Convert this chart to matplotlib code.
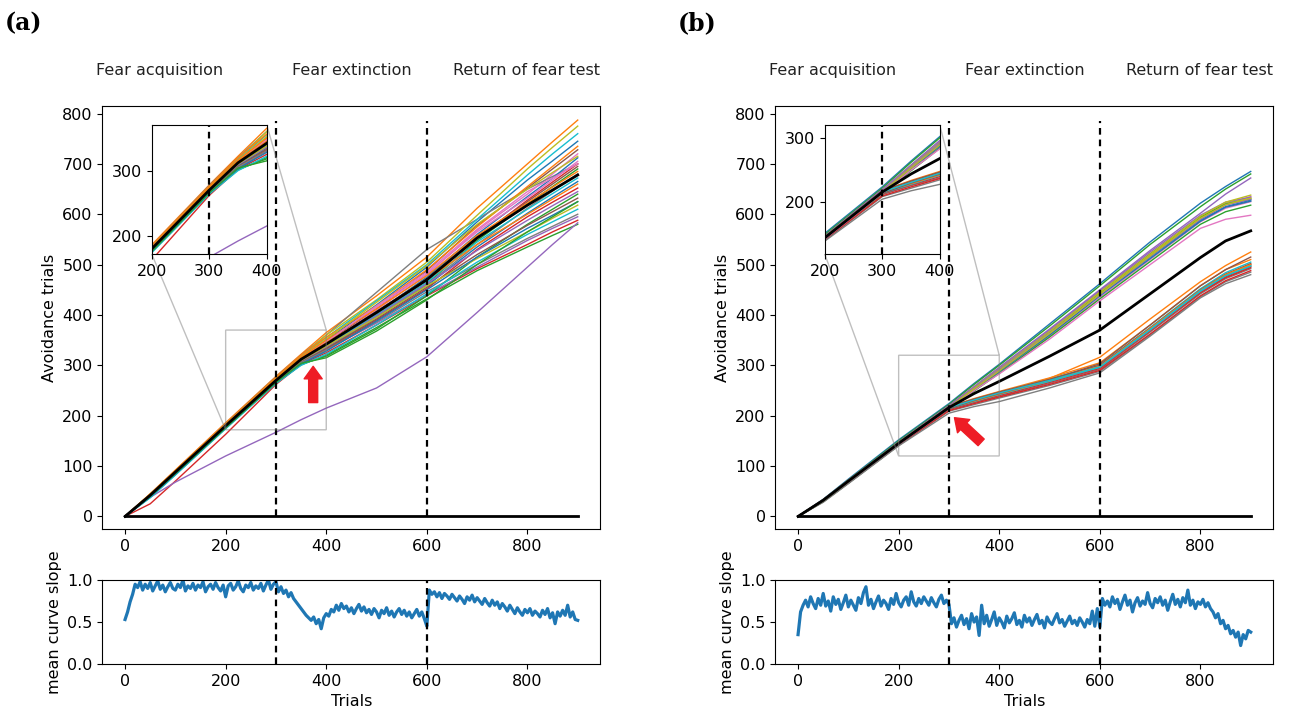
import numpy as np
import matplotlib.pyplot as plt

trials = [0, 50, 100, 200, 300, 350, 400, 500, 600, 700, 800, 850, 900]

# (a) cumulative avoidance trials per agent
agents_a = [
    [0, 42, 88, 181, 272, 314, 350, 420, 495, 585, 668, 706, 745],
    [0, 45, 92, 186, 278, 322, 365, 438, 515, 612, 700, 744, 787],
    [0, 39, 84, 176, 265, 301, 320, 375, 432, 488, 535, 558, 580],
    [0, 25, 70, 163, 262, 302, 325, 380, 438, 492, 540, 565, 588],
    [0, 38, 68, 120, 167, 192, 215, 255, 317, 405, 495, 540, 583],
    [0, 41, 87, 179, 270, 313, 345, 412, 488, 578, 652, 690, 728],
    [0, 42, 88, 180, 271, 311, 342, 410, 480, 568, 640, 680, 720],
    [0, 43, 90, 184, 277, 320, 360, 445, 530, 590, 650, 675, 700],
    [0, 44, 90, 183, 275, 318, 360, 430, 505, 598, 690, 733, 775],
    [0, 43, 89, 182, 273, 317, 355, 428, 500, 590, 678, 720, 760],
    [0, 40, 86, 178, 268, 309, 338, 405, 475, 560, 635, 672, 712],
    [0, 44, 91, 184, 276, 320, 356, 418, 490, 575, 655, 695, 735],
    [0, 40, 85, 177, 267, 307, 335, 398, 462, 548, 620, 655, 690],
    [0, 41, 87, 179, 269, 310, 340, 402, 468, 552, 628, 664, 700],
    [0, 41, 86, 178, 268, 306, 331, 384, 440, 495, 548, 572, 595],
    [0, 42, 88, 181, 271, 312, 343, 407, 472, 555, 625, 660, 695],
    [0, 43, 89, 182, 272, 315, 348, 415, 482, 565, 632, 668, 705],
    [0, 39, 84, 176, 266, 305, 332, 395, 460, 540, 612, 646, 680],
    [0, 43, 89, 182, 273, 316, 352, 425, 498, 580, 650, 683, 715],
    [0, 42, 88, 180, 270, 311, 340, 400, 465, 545, 610, 641, 672],
    [0, 41, 86, 178, 268, 308, 336, 396, 458, 535, 602, 634, 665],
    [0, 44, 90, 182, 273, 316, 350, 412, 478, 558, 622, 654, 685],
    [0, 38, 83, 175, 265, 302, 318, 372, 438, 515, 580, 610, 640],
    [0, 40, 85, 176, 266, 304, 330, 390, 452, 530, 595, 624, 652],
    [0, 42, 87, 179, 269, 309, 336, 398, 462, 528, 588, 617, 645],
    [0, 41, 86, 178, 268, 306, 333, 392, 455, 520, 578, 605, 632],
    [0, 42, 87, 180, 271, 313, 346, 418, 485, 570, 645, 672, 700],
    [0, 40, 85, 177, 267, 305, 330, 386, 446, 500, 552, 576, 600],
    [0, 42, 88, 180, 270, 310, 338, 395, 458, 512, 565, 592, 618],
    [0, 37, 82, 174, 264, 300, 322, 380, 442, 505, 560, 585, 610],
    [0, 39, 84, 176, 266, 303, 328, 388, 450, 515, 572, 598, 625],
    [0, 43, 89, 181, 272, 314, 345, 405, 470, 540, 600, 630, 660],
    [0, 40, 85, 176, 266, 304, 315, 368, 430, 500, 565, 595, 625],
]
mean_a = [0, 42, 88, 180, 270, 312, 342, 405, 470, 553, 618, 648, 678]

# (b) cumulative avoidance trials per agent
agents_b = [
    [0, 34, 74, 152, 224, 264, 302, 382, 462, 545, 622, 655, 685],
    [0, 33, 72, 148, 218, 234, 248, 275, 305, 380, 458, 490, 510],
    [0, 33, 72, 150, 222, 262, 300, 378, 458, 540, 615, 650, 680],
    [0, 32, 70, 146, 216, 230, 244, 270, 298, 372, 450, 480, 500],
    [0, 32, 71, 148, 220, 258, 296, 372, 450, 528, 602, 640, 672],
    [0, 31, 69, 145, 215, 229, 242, 268, 295, 370, 446, 476, 496],
    [0, 31, 69, 145, 217, 254, 290, 365, 442, 518, 592, 620, 635],
    [0, 30, 67, 143, 212, 226, 238, 264, 292, 366, 442, 472, 492],
    [0, 32, 70, 146, 218, 256, 293, 368, 446, 522, 595, 622, 632],
    [0, 32, 71, 147, 217, 232, 246, 273, 300, 375, 452, 484, 505],
    [0, 30, 68, 143, 215, 252, 288, 362, 440, 515, 588, 615, 628],
    [0, 31, 70, 146, 215, 231, 245, 274, 316, 392, 466, 498, 525],
    [0, 31, 69, 144, 216, 253, 290, 366, 444, 520, 594, 620, 630],
    [0, 30, 68, 144, 213, 227, 240, 266, 294, 368, 444, 474, 494],
    [0, 33, 71, 147, 219, 257, 294, 370, 448, 525, 598, 624, 634],
    [0, 33, 71, 147, 218, 233, 247, 272, 300, 374, 450, 481, 502],
    [0, 30, 67, 142, 214, 250, 285, 358, 435, 510, 585, 612, 625],
    [0, 29, 66, 141, 209, 222, 235, 260, 288, 360, 436, 466, 485],
    [0, 32, 70, 146, 217, 255, 292, 367, 445, 520, 596, 624, 638],
    [0, 31, 69, 145, 214, 228, 242, 268, 296, 370, 447, 478, 498],
    [0, 31, 68, 144, 216, 252, 287, 360, 438, 512, 586, 614, 626],
    [0, 32, 70, 146, 216, 229, 243, 270, 298, 373, 449, 480, 500],
    [0, 29, 66, 141, 213, 249, 284, 356, 432, 506, 580, 605, 618],
    [0, 30, 67, 142, 210, 224, 237, 262, 290, 362, 438, 468, 488],
    [0, 32, 70, 145, 217, 254, 291, 364, 440, 516, 590, 618, 630],
    [0, 31, 69, 145, 214, 230, 244, 271, 303, 380, 458, 490, 515],
    [0, 30, 67, 143, 214, 250, 283, 352, 428, 500, 572, 590, 598],
    [0, 28, 65, 140, 205, 218, 228, 255, 285, 358, 434, 462, 480],
    [0, 31, 69, 145, 216, 253, 289, 363, 441, 517, 592, 619, 632],
    [0, 32, 70, 146, 216, 231, 245, 270, 297, 371, 448, 478, 497],
]
mean_b = [0, 32, 70, 145, 216, 244, 268, 318, 370, 442, 514, 547, 567]

# agent that never avoids (flat black line at zero)
never_avoid = [0] * len(trials)

# mean curve slope, one value every 5 trials from 0 to 900
slope_step = 5
slope_a = [
    0.53, 0.62, 0.74, 0.83, 0.95, 0.91, 0.98, 0.88, 0.95, 0.90,
    0.97, 0.87, 0.93, 0.99, 0.89, 0.94, 0.86, 0.92, 0.97, 0.90,
    0.88, 0.95, 0.91, 1.00, 0.87, 0.93, 0.90, 0.96, 0.88, 0.94,
    0.91, 0.98, 0.86, 0.92, 0.95, 0.89, 0.97, 0.91, 0.87, 0.94,
    0.80, 0.93, 0.96, 0.88, 0.92, 0.99, 0.90, 0.86, 0.94, 0.91,
    0.97, 0.88, 0.93, 0.90, 0.96, 0.87, 0.94, 1.00, 0.89, 0.95,
    0.98, 0.86, 0.92, 0.84, 0.88, 0.80, 0.85, 0.78, 0.74, 0.70,
    0.66, 0.62, 0.58, 0.55, 0.52, 0.56, 0.48, 0.53, 0.42, 0.55,
    0.60, 0.57, 0.65, 0.62, 0.70, 0.64, 0.72, 0.66, 0.69, 0.62,
    0.67, 0.60, 0.66, 0.71, 0.63, 0.68, 0.61, 0.65, 0.59, 0.66,
    0.62, 0.55, 0.64, 0.60, 0.67, 0.58, 0.63, 0.56, 0.62, 0.66,
    0.59, 0.64, 0.57, 0.62, 0.55, 0.60, 0.65, 0.57, 0.62, 0.54,
    0.45, 0.88, 0.83, 0.86, 0.80, 0.85, 0.78, 0.84, 0.81, 0.77,
    0.83, 0.79, 0.75, 0.81, 0.77, 0.72, 0.80, 0.76, 0.82, 0.74,
    0.79, 0.75, 0.71, 0.78, 0.73, 0.69, 0.76, 0.70, 0.74, 0.66,
    0.72, 0.68, 0.63, 0.70, 0.65, 0.60, 0.67, 0.62, 0.58, 0.65,
    0.61, 0.66, 0.58, 0.63, 0.60, 0.56, 0.64, 0.59, 0.66, 0.55,
    0.61, 0.48, 0.62, 0.57, 0.64, 0.58, 0.70, 0.56, 0.62, 0.53,
    0.52,
]
slope_b = [
    0.35, 0.62, 0.70, 0.76, 0.68, 0.80, 0.72, 0.66, 0.78, 0.70,
    0.84, 0.69, 0.75, 0.63, 0.80, 0.71, 0.77, 0.65, 0.73, 0.82,
    0.68, 0.76, 0.70, 0.64, 0.79, 0.72, 0.85, 0.92, 0.70, 0.77,
    0.66, 0.74, 0.81, 0.69, 0.76, 0.72, 0.65, 0.78, 0.71, 0.84,
    0.73, 0.68, 0.76, 0.80, 0.70, 0.86, 0.74, 0.69, 0.78, 0.72,
    0.80, 0.75, 0.70, 0.79, 0.73, 0.68, 0.77, 0.82, 0.72, 0.76,
    0.71, 0.48, 0.55, 0.44, 0.52, 0.58, 0.47, 0.54, 0.42, 0.60,
    0.50, 0.56, 0.34, 0.70, 0.48, 0.58, 0.45, 0.53, 0.62, 0.46,
    0.55, 0.50, 0.43, 0.57, 0.49, 0.54, 0.61, 0.47, 0.52, 0.44,
    0.58, 0.50, 0.55, 0.46, 0.53, 0.59, 0.48, 0.52, 0.43, 0.56,
    0.50, 0.47, 0.54, 0.60, 0.49, 0.53, 0.45, 0.51, 0.57, 0.48,
    0.52, 0.46, 0.55, 0.50, 0.44, 0.53, 0.48, 0.63, 0.45, 0.66,
    0.44, 0.78, 0.70, 0.75, 0.68, 0.80, 0.72, 0.77, 0.65, 0.74,
    0.82, 0.70, 0.76, 0.62, 0.73, 0.79, 0.69, 0.75, 0.71, 0.85,
    0.72, 0.67, 0.78, 0.73, 0.80, 0.70, 0.76, 0.64, 0.74, 0.83,
    0.71, 0.77, 0.68, 0.79, 0.73, 0.88, 0.70, 0.76, 0.66, 0.74,
    0.71, 0.77, 0.68, 0.73, 0.66, 0.62, 0.55, 0.60, 0.48, 0.52,
    0.42, 0.46, 0.36, 0.40, 0.32, 0.38, 0.22, 0.35, 0.30, 0.40,
    0.38,
]

phase_bounds = [300, 600]
phase_labels = ["Fear acquisition", "Fear extinction", "Return of fear test"]
phase_label_x = [69, 450, 798]

dash = (0, (3, 2.2))
fs = 11.5

fig = plt.figure(figsize=(12.9, 7.16), dpi=100)


def draw_panel(left, tag, agents, mean, slope, ins_ylim, arrow_tail, arrow_head):
    ax = fig.add_axes([left, 0.2612, 0.386, 0.5908])
    ax_s = fig.add_axes([left, 0.0726, 0.386, 0.1173])
    axins = ax.inset_axes([0.099, 0.650, 0.231, 0.305])

    for a in (ax, axins):
        for i, y in enumerate(agents):
            a.plot(trials, y, color=f"C{i % 10}", lw=1)
        a.plot(trials, mean, color="k", lw=2)
        a.plot(trials, never_avoid, color="k", lw=2)

    ax.vlines(phase_bounds, 0, 785, colors="k", linestyles=dash, lw=1.6, zorder=3)
    axins.axvline(300, color="k", ls=dash, lw=1.6, zorder=3)

    ax.set_xlim(-45, 945)
    ax.set_ylim(-25, 815)
    ax.set_xticks([0, 200, 400, 600, 800])
    ax.set_yticks(range(0, 801, 100))
    ax.set_ylabel("Avoidance trials", fontsize=fs)
    ax.tick_params(labelsize=fs)

    axins.set_xlim(200, 400)
    axins.set_ylim(*ins_ylim)
    axins.set_xticks([200, 300, 400])
    axins.set_yticks([200, 300])
    axins.tick_params(labelsize=fs)
    ind = ax.indicate_inset_zoom(axins, edgecolor="0.5")
    for c, vis in zip(ind.connectors, [True, False, False, True]):
        c.set_visible(vis)

    ax.annotate("", xy=arrow_head, xytext=arrow_tail,
                arrowprops=dict(arrowstyle="simple,head_width=1.3,head_length=0.9,tail_width=0.65",
                                color="#ee1c25", shrinkA=0, shrinkB=0), zorder=5)

    for x, s in zip(phase_label_x, phase_labels):
        ax.text(x, 1.083, s, transform=ax.get_xaxis_transform(), ha="center",
                va="center", fontsize=fs, color="#222222")

    xs = np.arange(len(slope)) * slope_step
    ax_s.plot(xs, slope, color="C0", lw=2.3)
    for b in phase_bounds:
        ax_s.axvline(b, color="k", ls=dash, lw=1.6)
    ax_s.set_xlim(-45, 945)
    ax_s.set_ylim(0, 1)
    ax_s.set_xticks([0, 200, 400, 600, 800])
    ax_s.set_yticks([0.0, 0.5, 1.0])
    ax_s.set_xlabel("Trials", fontsize=fs)
    ax_s.set_ylabel("mean curve slope", fontsize=fs)
    ax_s.tick_params(labelsize=fs)

    fig.text(left - 0.0755, 0.968, tag, fontsize=17, fontweight="bold",
             family="DejaVu Serif", va="center")


draw_panel(0.0794, "(a)", agents_a, mean_a, slope_a, (172, 370), (374, 226), (374, 298))
draw_panel(0.6011, "(b)", agents_b, mean_b, slope_b, (120, 320), (364, 147), (311, 196))

fig.savefig("out.png", dpi=100)
